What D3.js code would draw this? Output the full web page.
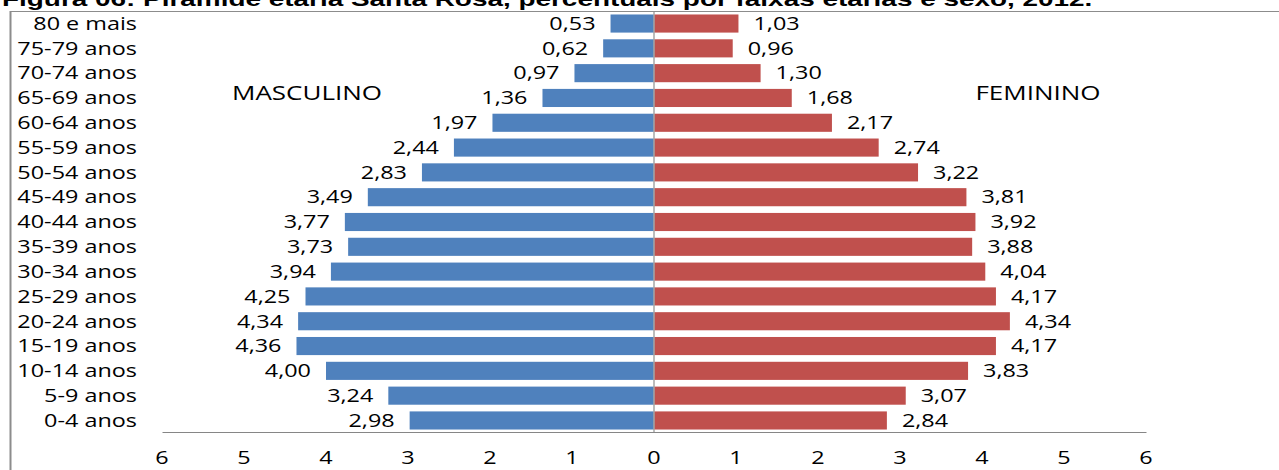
<!DOCTYPE html>
<html>
<head>
<meta charset="utf-8">
<script src="https://cdn.jsdelivr.net/npm/d3@7"></script>
<style>
  html, body { margin: 0; padding: 0; background: #fff; }
  svg { display: block; }
  .lbl { font-family: "Open Sans", sans-serif; font-size: 18px; fill: #000; }
</style>
</head>
<body>
<div id="chart"></div>
<script>
// age groups, top to bottom
const ageGroups = ["80 e mais", "75-79 anos", "70-74 anos", "65-69 anos", "60-64 anos",
  "55-59 anos", "50-54 anos", "45-49 anos", "40-44 anos", "35-39 anos", "30-34 anos",
  "25-29 anos", "20-24 anos", "15-19 anos", "10-14 anos", "5-9 anos", "0-4 anos"];
const masculino = [0.53, 0.62, 0.97, 1.36, 1.97, 2.44, 2.83, 3.49, 3.77, 3.73, 3.94,
  4.25, 4.34, 4.36, 4.00, 3.24, 2.98];
const feminino = [1.03, 0.96, 1.30, 1.68, 2.17, 2.74, 3.22, 3.81, 3.92, 3.88, 4.04,
  4.17, 4.34, 4.17, 3.83, 3.07, 2.84];
const tickValues = [-6, -5, -4, -3, -2, -1, 0, 1, 2, 3, 4, 5, 6];

const W = 1279, H = 470;
const sx = 1.3; // the source picture is stretched sideways

const svg = d3.select("#chart").append("svg")
  .attr("width", W).attr("height", H);

svg.append("rect").attr("width", W).attr("height", H).attr("fill", "#fff");

// title, cut off at the top like in the source
svg.append("g").attr("transform", "translate(2,5.5) scale(1.33,1)")
  .append("text")
  .style("font-family", "'Liberation Sans', Arial, sans-serif")
  .style("font-weight", "bold")
  .style("font-size", "21px")
  .text("Figura 06: Pirâmide etária Santa Rosa, percentuais por faixas etárias e sexo, 2012.");

// frame
svg.append("line").attr("x1", 10).attr("x2", W).attr("y1", 11.5).attr("y2", 11.5)
  .attr("stroke", "#8c8c8c").attr("stroke-width", 1);
svg.append("line").attr("x1", 10.5).attr("x2", 10.5).attr("y1", 11).attr("y2", H)
  .attr("stroke", "#8c8c8c").attr("stroke-width", 2);

const x = d3.scaleLinear().domain([-6, 6]).range([162, 1146]);
const y = d3.scaleBand().domain(ageGroups).range([12, 432])
  .paddingInner(0.27).paddingOuter(0.1);

const fmt = v => d3.format(".2f")(v).replace(".", ",");

// stretched text helper
function label(g, tx, ty, str, anchor, size) {
  const t = g.append("g").attr("transform", `translate(${tx},${ty}) scale(${sx},1)`)
    .append("text")
    .attr("class", "lbl")
    .attr("text-anchor", anchor)
    .attr("dy", "0.35em")
    .text(str);
  if (size) t.style("font-size", size + "px");
  return t;
}

const rows = ageGroups.map((a, i) => ({ age: a, m: masculino[i], f: feminino[i] }));

// bars
svg.append("g").selectAll("rect").data(rows).join("rect")
  .attr("x", d => x(-d.m)).attr("width", d => x(0) - x(-d.m))
  .attr("y", d => y(d.age)).attr("height", y.bandwidth())
  .attr("fill", "#4F81BD");
svg.append("g").selectAll("rect").data(rows).join("rect")
  .attr("x", x(0)).attr("width", d => x(d.f) - x(0))
  .attr("y", d => y(d.age)).attr("height", y.bandwidth())
  .attr("fill", "#C0504D");

// zero axis
svg.append("line").attr("x1", x(0)).attr("x2", x(0)).attr("y1", 12).attr("y2", 432)
  .attr("stroke", "#a6a6a6").attr("stroke-width", 1.5);

// bottom axis
const xAxis = d3.axisBottom(x).tickValues(tickValues).tickSize(0).tickFormat("");
const axG = svg.append("g").attr("transform", "translate(0,432)").call(xAxis);
axG.select(".domain").attr("stroke", "#868686");
const tickG = svg.append("g");
tickValues.forEach(v => label(tickG, x(v), 458, Math.abs(v), "middle"));

// labels
const lab = svg.append("g");
rows.forEach(d => {
  const cy = y(d.age) + y.bandwidth() / 2;
  label(lab, 137, cy, d.age, "end");
  label(lab, x(-d.m) - 15, cy, fmt(d.m), "end");
  label(lab, x(d.f) + 15, cy, fmt(d.f), "start");
});

label(lab, 307, 93, "MASCULINO", "middle", 20);
label(lab, 1038, 93, "FEMININO", "middle", 20);
</script>
</body>
</html>
